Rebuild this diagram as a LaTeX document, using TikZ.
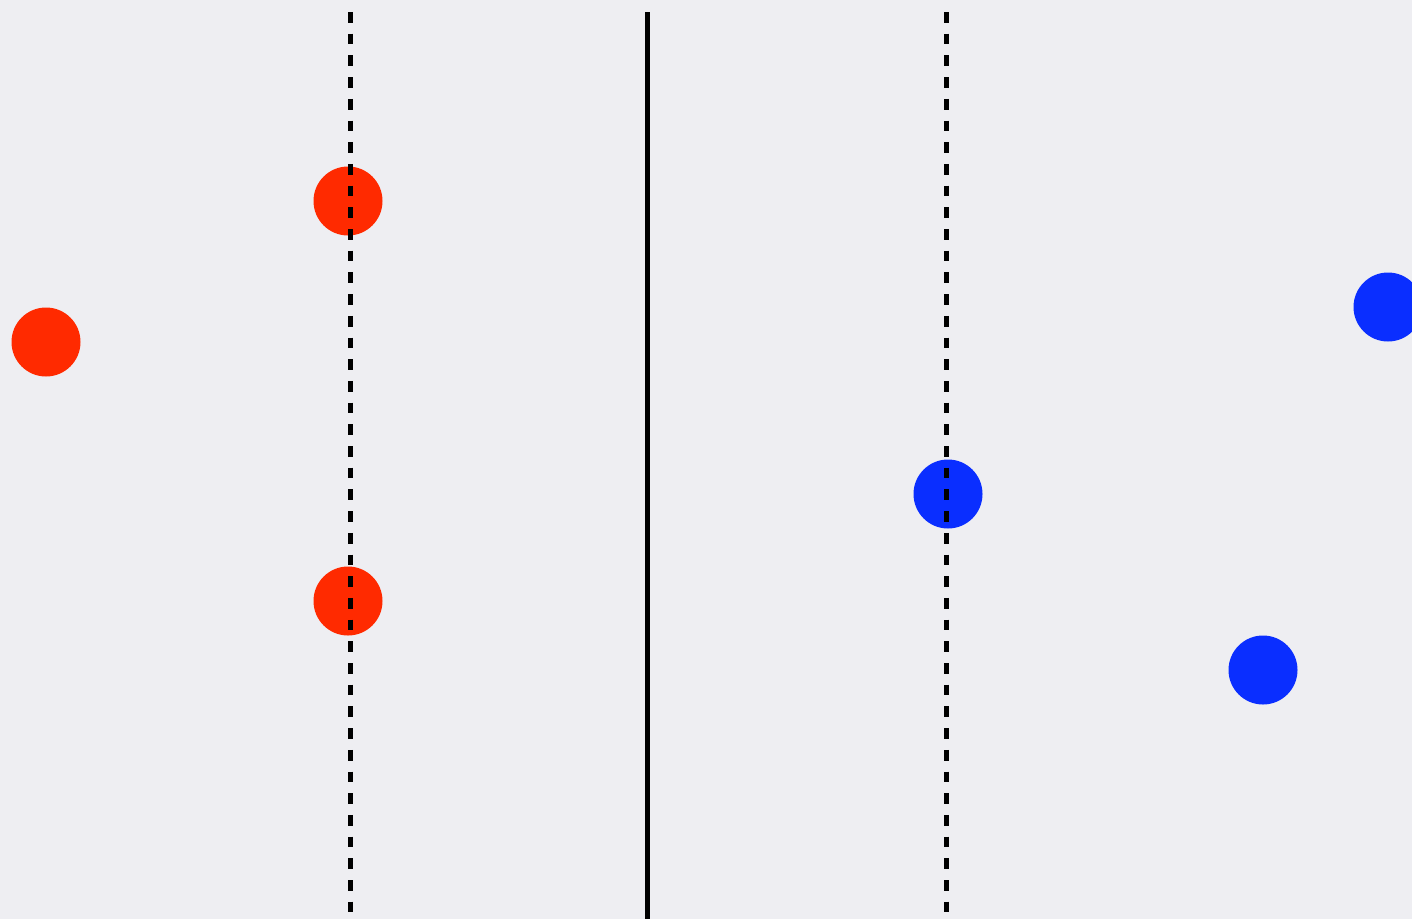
\documentclass[tikz,border=0pt]{standalone}
\usetikzlibrary{backgrounds}
\definecolor{bgc}{HTML}{EEEEF2}
\definecolor{redc}{HTML}{FF2A00}
\definecolor{bluec}{HTML}{0A2EFF}
\tikzset{
  reddot/.style={circle,fill=redc,minimum size=69pt,inner sep=0pt,draw=none},
  bluedot/.style={circle,fill=bluec,minimum size=69pt,inner sep=0pt,draw=none},
  dashline/.style={line width=5pt,dash pattern=on 10.7pt off 11pt},
  solidline/.style={line width=5pt}
}
\begin{document}
\begin{tikzpicture}[x=1pt,y=-1pt]
\fill[bgc] (0,0) rectangle (1412,919);
\useasboundingbox (0,0) rectangle (1412,919);
\begin{scope}
\clip (0,0) rectangle (1412,919);
\node[reddot] (r1) at (348,201) {};
\node[reddot] (r2) at (46,342) {};
\node[reddot] (r3) at (348,601) {};
\node[bluedot] (b1) at (948,494) {};
\node[bluedot] (b2) at (1263,670) {};
\node[bluedot] (b3) at (1388,307) {};
\coordinate (lt) at (350.5,12);
\coordinate (lb) at (350.5,919);
\coordinate (mt) at (647,12);
\coordinate (mb) at (647,919);
\coordinate (rt) at (946,12);
\coordinate (rb) at (946,919);
\draw[dashline] (lt) -- (lb);
\draw[solidline] (mt) -- (mb);
\draw[dashline] (rt) -- (rb);
\end{scope}
\end{tikzpicture}
\end{document}
